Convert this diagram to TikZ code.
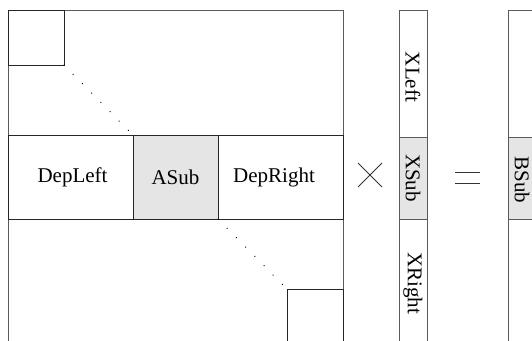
\documentclass[tikz,border=0pt]{standalone}
\usepackage{fontspec}
\setmainfont{Liberation Serif}
\begin{document}
\begin{tikzpicture}[x=1pt,y=-1pt,
  frame/.style={draw=black!65,line width=0.9pt},
  inner/.style={draw=black!85,line width=0.9pt},
  sub/.style={fill=black!10},
  lbl/.style={inner sep=0pt,font=\fontsize{21}{25}\selectfont},
  vlbl/.style={lbl,rotate=-90},
  dotline/.style={draw=black,line width=1.4pt,line cap=round,dash pattern=on 0.01pt off 13.1pt},
  op/.style={draw=black!80,line width=0.8pt}]
\useasboundingbox (0,0) rectangle (532,340);
\clip (0,0) rectangle (532,340);
% big matrix
\draw[frame] (8,10) rectangle (343,370);
\draw[inner] (8,10) rectangle (64,65);
\draw[inner] (287,289) rectangle (343,370);
% band
\draw[sub] (133,135) rectangle (218,219);
\draw[inner] (8,135) rectangle (343,219);
\draw[inner] (133,135) -- (133,219);
\draw[inner] (218,135) -- (218,219);
\node[lbl] (depleft) at (72.5,177) {DepLeft};
\node[lbl] (asub) at (175.5,177) {ASub};
\node[lbl] (depright) at (274,177) {DepRight};
% dotted diagonals
\coordinate (c1) at (64,65);
\coordinate (c2) at (133,135);
\coordinate (c3) at (218,219);
\coordinate (c4) at (287,289);
\draw[dotline] (c1) -- (c2);
\draw[dotline] (c3) -- (c4);
% times sign
\coordinate (t1) at (358,163);
\coordinate (t2) at (382,187);
\coordinate (t3) at (382,163);
\coordinate (t4) at (358,187);
\draw[op] (t1) -- (t2);
\draw[op] (t3) -- (t4);
% X vector
\draw[sub] (399,137) rectangle (427,219);
\draw[frame] (399,10) rectangle (427,370);
\draw[frame] (399,137) -- (427,137);
\draw[frame] (399,219) -- (427,219);
\node[vlbl] (xleft) at (413,77) {XLeft};
\node[vlbl] (xsub) at (413,178) {XSub};
\node[vlbl] (xright) at (413,283) {XRight};
% equals sign
\coordinate (e1) at (455,172);
\coordinate (e2) at (480,172);
\coordinate (e3) at (455,183);
\coordinate (e4) at (480,183);
\draw[op] (e1) -- (e2);
\draw[op] (e3) -- (e4);
% B vector
\draw[sub] (508,137) rectangle (560,219);
\draw[frame] (508,10) rectangle (560,370);
\draw[frame] (508,137) -- (560,137);
\draw[frame] (508,219) -- (560,219);
\node[vlbl] (bsub) at (522,180) {BSub};
\end{tikzpicture}
\end{document}
